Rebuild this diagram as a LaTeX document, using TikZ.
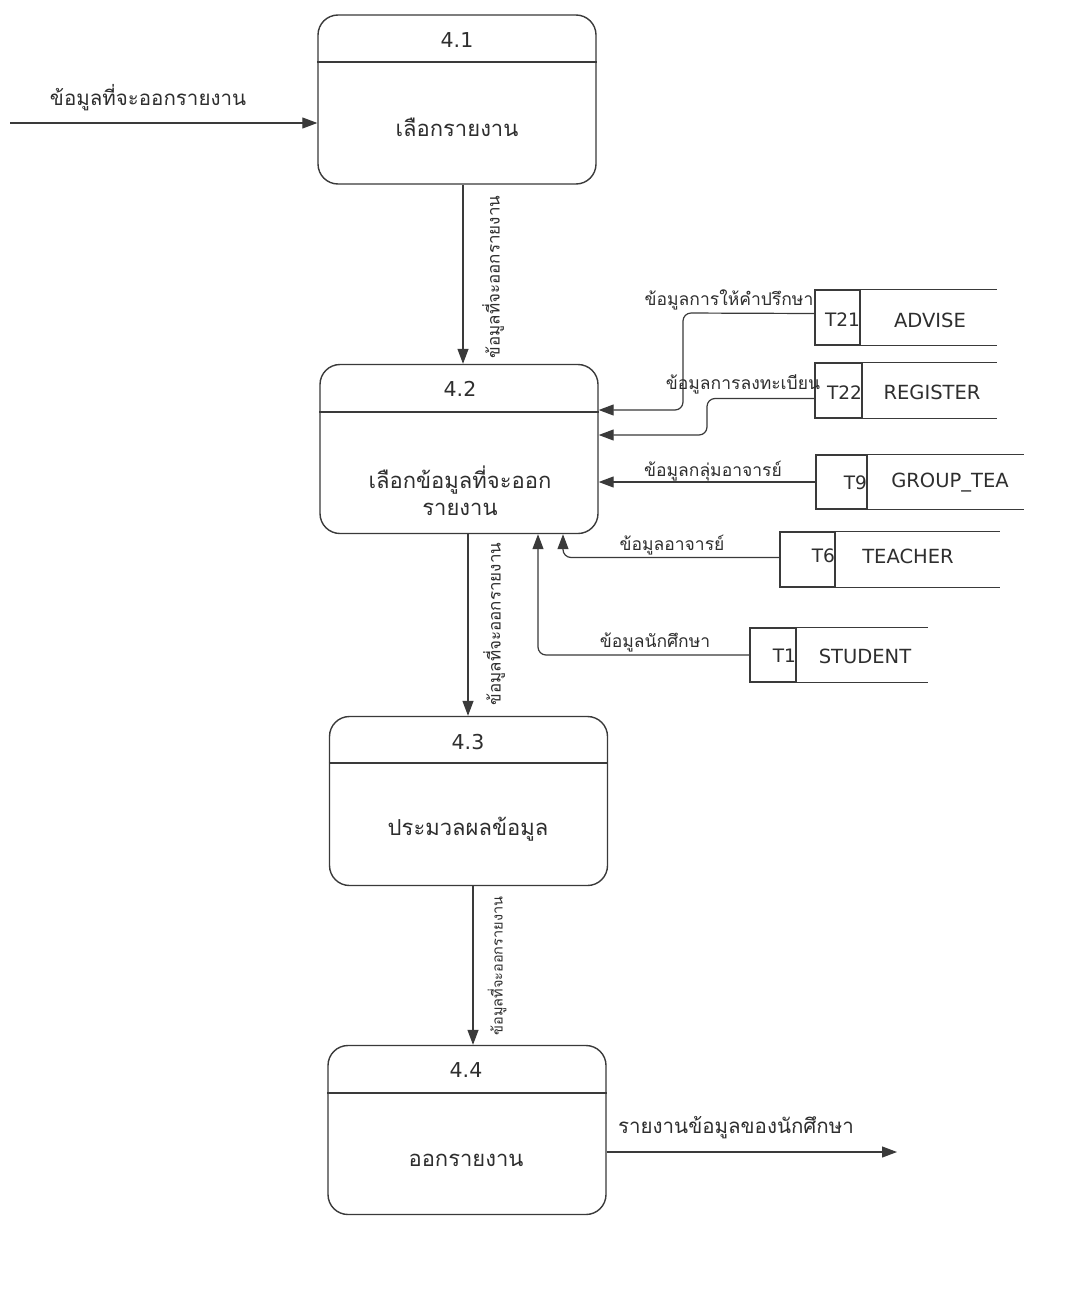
\documentclass[tikz,border=0pt]{standalone}
\usepackage{fontspec}
\setmainfont{DejaVu Sans}
\newfontfamily\thaifont[Script=Thai]{Loma}
\usetikzlibrary{arrows.meta,calc}
\definecolor{ink}{HTML}{3A3A3A}
\definecolor{txt}{HTML}{2E2E2E}
\tikzset{
  proc/.style={draw=ink, line width=1.4pt, rounded corners=20pt, minimum width=278pt, minimum height=169pt, inner sep=0pt},
  num/.style={text=txt, font=\fontsize{20.5}{22}\selectfont, inner sep=0pt},
  ptext/.style={text=txt, font=\thaifont\fontsize{22}{27}\selectfont, align=center, inner sep=0pt},
  flowlbl/.style={text=txt, font=\thaifont\fontsize{20.5}{22}\selectfont, inner sep=0pt},
  storelbl/.style={text=txt, font=\thaifont\fontsize{17.5}{19}\selectfont, inner sep=0pt},
  vlbl/.style={text=txt, font=\thaifont\fontsize{17}{19}\selectfont, inner sep=0pt, rotate=90},
  vlbls/.style={text=txt, font=\thaifont\fontsize{14.5}{16}\selectfont, inner sep=0pt, rotate=90},
  idcell/.style={draw=ink, line width=1.4pt, inner sep=0pt},
  idtext/.style={text=txt, font=\fontsize{18.5}{20}\selectfont, inner sep=0.5pt, anchor=east},
  nametext/.style={text=txt, font=\fontsize{19.5}{22}\selectfont, inner sep=0pt},
  openline/.style={draw=ink, line width=1.4pt},
  divider/.style={draw=ink, line width=1.4pt},
  flow/.style={draw=ink, line width=1.2pt, -{Triangle[length=15pt,width=11pt]}, rounded corners=8pt},
}
\begin{document}
\begin{tikzpicture}[x=1pt,y=-1pt]
\fill[white] (0,0) rectangle (1079,1309);
\useasboundingbox (0,0) rectangle (1079,1309);

% processes
\node[proc] (p41) at (457,99.5) {};
\node[proc] (p42) at (459,449) {};
\node[proc] (p43) at (468.5,801) {};
\node[proc] (p44) at (467,1130) {};
\draw[divider] (p41.west |- 0,62) -- (p41.east |- 0,62);
\draw[divider] (p42.west |- 0,412) -- (p42.east |- 0,412);
\draw[divider] (p43.west |- 0,763) -- (p43.east |- 0,763);
\draw[divider] (p44.west |- 0,1093) -- (p44.east |- 0,1093);
\node[num] (p41n) at (457,40) {4.1};
\node[num] (p42n) at (460,389) {4.2};
\node[num] (p43n) at (468,742) {4.3};
\node[num] (p44n) at (466,1070) {4.4};
\node[ptext] (p41t) at (457,127) {เลือกรายงาน};
\node[ptext] (p42t) at (460,491) {เลือกข้อมูลที่จะออก\\รายงาน};
\node[ptext] (p43t) at (468,829) {ประมวลผลข้อมูล};
\node[ptext] (p44t) at (466,1160) {ออกรายงาน};

% data stores
\node[idcell, minimum width=45pt, minimum height=55pt] (s21) at (837.5,317.5) {};
\node[idcell, minimum width=47pt, minimum height=55pt] (s22) at (838.5,390.5) {};
\node[idcell, minimum width=51pt, minimum height=54pt] (s9) at (841.5,482) {};
\node[idcell, minimum width=55pt, minimum height=55pt] (s6) at (807.5,559.5) {};
\node[idcell, minimum width=46pt, minimum height=54pt] (s1) at (773,655) {};
\draw[openline] (s21.north east) -- (s21.north east -| 997,0);
\draw[openline] (s21.south east) -- (s21.south east -| 997,0);
\draw[openline] (s22.north east) -- (s22.north east -| 997,0);
\draw[openline] (s22.south east) -- (s22.south east -| 997,0);
\draw[openline] (s9.north east) -- (s9.north east -| 1024,0);
\draw[openline] (s9.south east) -- (s9.south east -| 1024,0);
\draw[openline] (s6.north east) -- (s6.north east -| 1000,0);
\draw[openline] (s6.south east) -- (s6.south east -| 1000,0);
\draw[openline] (s1.north east) -- (s1.north east -| 928,0);
\draw[openline] (s1.south east) -- (s1.south east -| 928,0);
\node[idtext] (s21id) at ([yshift=-2pt]s21.east) {T21};
\node[idtext] (s22id) at ([yshift=-2pt]s22.east) {T22};
\node[idtext] (s9id) at ([yshift=-1pt]s9.east) {T9};
\node[idtext] (s6id) at ([yshift=4pt]s6.east) {T6};
\node[idtext] (s1id) at ([yshift=-1pt]s1.east) {T1};
\node[nametext] (s21n) at (930,320) {ADVISE};
\node[nametext] (s22n) at (932,392) {REGISTER};
\node[nametext] (s9n) at (950,483) {GROUP\_TEA};
\node[nametext] (s6n) at (908,556) {TEACHER};
\node[nametext] (s1n) at (865,656) {STUDENT};

% flows
\coordinate (src) at (10,123);
\coordinate (dst) at (897,1152);
\draw[flow] (src) -- (p41.west |- src);
\node[flowlbl] (l0) at (148,98) {ข้อมูลที่จะออกรายงาน};
\draw[flow] (p41.south -| 463,0) -- (p42.north -| 463,0);
\node[vlbl] (l1) at (493,277) {ข้อมูลที่จะออกรายงาน};
\draw[flow] (p42.south -| 468,0) -- (p43.north -| 468,0);
\node[vlbl] (l2) at (494,624) {ข้อมูลที่จะออกรายงาน};
\draw[flow] (p43.south -| 473,0) -- (p44.north -| 473,0);
\node[vlbls] (l3) at (497,966) {ข้อมูลที่จะออกรายงาน};
\draw[flow] (p44.east |- dst) -- (dst);
\node[flowlbl] (l4) at (736,1128) {รายงานข้อมูลของนักศึกษา};

\draw[flow] ([yshift=4pt]s21.west) -- (683,313) -- (683,410) -- (p42.east |- 0,410);
\node[storelbl] (l21) at (729,300) {ข้อมูลการให้คำปรึกษา};
\draw[flow] ([yshift=-8pt]s22.west) -- (707,398.5) -- (707,435) -- (p42.east |- 0,435);
\node[storelbl] (l22) at (743,384) {ข้อมูลการลงทะเบียน};
\draw[flow] (s9.west) -- (p42.east |- s9.west);
\node[storelbl] (l9) at (713,471) {ข้อมูลกลุ่มอาจารย์};
\draw[flow] ([yshift=2pt]s6.west) -| (p42.south -| 563,0);
\node[storelbl] (l6) at (672,545) {ข้อมูลอาจารย์};
\draw[flow] (s1.west) -| (p42.south -| 538,0);
\node[storelbl] (l1s) at (655,642) {ข้อมูลนักศึกษา};
\end{tikzpicture}
\end{document}
